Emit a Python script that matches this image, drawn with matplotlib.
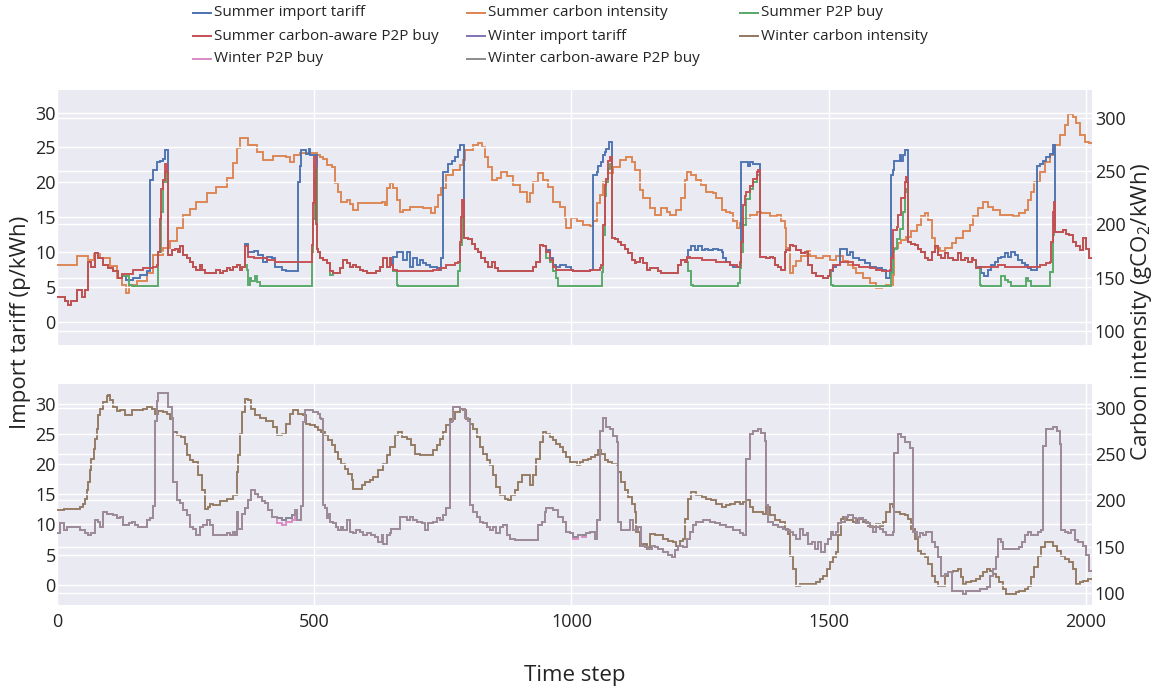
import matplotlib
matplotlib.use("Agg")
import matplotlib.pyplot as plt
from matplotlib.lines import Line2D

plt.rcParams['font.family'] = ['Open Sans', 'DejaVu Sans']
plt.rcParams['mathtext.fontset'] = 'custom'
plt.rcParams['mathtext.rm'] = 'Open Sans'
plt.rcParams['mathtext.default'] = 'regular'

# ---------------- data (time step, value), step-wise ----------------
summer_import_tariff = [
    (0,3.5),(15,2.9),(22,2.4),(28,2.9),(38,4.6),(48,3.6),(54,4.6),(61,8.6),(67,7.9),(74,9.9),(80,9.1),(90,8.1),(100,7.7),(109,7.2),(119,6.2),
    (126,6.5),(135,6.0),(148,6.2),(161,6.7),(174,7.2),(181,20.3),(187,21.7),(194,22.9),(200,23.1),(207,23.4),(210,24.6),(216,9.6),(223,10.3),
    (229,10.5),(236,10.0),(239,10.8),(245,9.6),(252,9.1),(258,8.6),(265,7.9),(271,7.4),(278,8.1),(281,7.4),(288,7.0),(310,7.4),(317,7.0),
    (323,7.2),(330,7.7),(336,7.4),(343,7.9),(349,8.1),(356,7.4),(359,7.9),(365,11.2),(372,10.0),(382,10.2),(391,9.6),(401,8.6),(408,9.3),
    (417,9.1),(424,7.9),(437,7.4),(446,7.2),(469,20.0),(472,22.4),(475,24.6),(485,24.1),(489,24.8),(492,23.9),(505,10.5),(508,10.0),(511,9.1),
    (518,8.9),(524,8.4),(531,7.2),(537,7.0),(550,7.7),(556,8.9),(563,8.4),(569,7.9),(576,8.1),(582,7.9),(589,7.4),(595,7.2),(602,7.0),(621,7.2),
    (628,7.9),(634,9.1),(641,7.9),(647,9.1),(650,8.1),(654,9.3),(660,10.0),(673,8.9),(680,10.0),(686,7.9),(693,9.1),(699,8.1),(705,8.9),(712,8.4),
    (718,8.1),(725,7.9),(738,7.7),(744,7.4),(747,9.1),(751,21.5),(760,22.7),(767,23.1),(773,23.6),(780,24.6),(783,25.3),(791,12.0),(799,11.8),
    (806,11.2),(812,10.5),(819,10.0),(825,9.1),(832,8.6),(838,7.9),(845,8.6),(851,7.7),(858,7.2),(926,7.9),(932,8.6),(939,11.0),(945,10.8),
    (951,10.3),(958,9.1),(964,8.1),(971,7.9),(977,8.1),(990,7.9),(1000,7.4),(1003,7.2),(1036,7.4),(1042,21.0),(1049,21.5),(1052,22.4),(1058,22.9),
    (1062,23.9),(1065,24.3),(1068,24.8),(1073,25.8),(1078,12.0),(1084,11.8),(1091,11.5),(1097,11.0),(1104,10.5),(1110,9.8),(1117,8.9),(1123,8.4),
    (1126,8.6),(1133,9.1),(1139,8.4),(1146,7.4),(1152,7.7),(1169,7.2),(1175,7.0),(1208,8.1),(1214,8.9),(1220,8.6),(1224,9.1),(1227,10.3),(1233,10.8),
    (1240,10.3),(1246,10.8),(1253,10.3),(1259,10.5),(1266,10.3),(1275,10.5),(1285,10.3),(1292,10.0),(1295,9.1),(1301,8.6),(1308,8.1),(1314,7.9),
    (1330,22.9),(1343,22.4),(1347,22.9),(1353,22.7),(1366,9.3),(1379,9.1),(1386,9.3),(1392,9.1),(1395,8.1),(1402,7.9),(1408,7.4),(1415,10.0),
    (1418,10.3),(1424,11.0),(1431,10.8),(1437,10.3),(1447,9.8),(1454,10.0),(1460,8.1),(1467,7.0),(1476,6.5),(1489,6.2),(1499,6.5),(1502,7.2),
    (1509,7.9),(1515,8.1),(1522,10.5),(1535,9.6),(1541,10.0),(1548,9.1),(1560,8.9),(1570,8.4),(1580,7.9),(1593,7.7),(1603,7.4),(1612,6.2),(1619,7.0),
    (1622,21.0),(1625,21.7),(1628,23.1),(1638,23.9),(1641,23.1),(1645,23.9),(1648,24.6),(1654,11.5),(1661,11.2),(1667,11.0),(1674,10.5),(1680,10.0),
    (1687,9.1),(1693,8.9),(1700,10.0),(1706,10.8),(1713,9.6),(1719,9.1),(1726,9.8),(1732,9.1),(1742,8.9),(1752,9.8),(1758,8.9),(1765,9.1),(1771,8.6),
    (1778,9.1),(1781,8.9),(1787,7.7),(1790,7.9),(1797,7.0),(1803,6.5),(1810,7.4),(1816,8.1),(1823,8.6),(1829,9.1),(1836,9.3),(1842,9.8),(1849,9.3),
    (1855,10.0),(1862,9.6),(1868,8.9),(1875,8.4),(1881,8.1),(1888,7.7),(1894,7.4),(1905,22.4),(1910,22.7),(1917,23.1),(1923,23.6),(1930,24.1),
    (1936,25.3),(1941,12.9),(1955,13.1),(1962,12.6),(1968,12.4),(1975,11.5),(1981,10.8),(1988,10.3),(1994,12.0),(2001,10.5),(2007,9.1)]

summer_carbon_intensity = [
    (0,162),(38,169.8),(61,166.7),(71,172.9),(84,168.2),(103,160.4),(116,149.5),(126,143.2),(134,135.4),(139,143.2),(155,146.3),(174,154.1),
    (187,171.4),(207,177.6),(220,183.9),(233,196.4),(245,208.9),(258,214.6),(271,221.4),(291,229.3),(310,235.5),(330,243.3),(343,257.4),
    (349,271.5),(356,281.5),(372,274.6),(388,268.4),(401,260.6),(420,264.6),(446,263.7),(453,259.0),(460,265),(472,266.8),(505,265),(511,263),
    (518,261),(524,255.9),(534,254.3),(540,238.7),(547,230.8),(553,221.4),(563,222.5),(569,219.4),(576,213.6),(586,219.9),(631,221.4),(638,218),
    (641,234),(647,238.7),(654,234),(660,223),(667,212),(673,213.6),(686,216.7),(712,215.2),(728,210.5),(734,216.7),(741,227.7),(747,234),
    (757,246.5),(770,251.2),(783,255.9),(790,260.6),(793,270),(809,274.6),(819,276.2),(826,273),(832,263.7),(838,254.3),(845,241.8),(855,243.3),
    (864,249),(874,245),(887,237),(900,230.8),(913,221.4),(919,229.3),(926,240.2),(935,248),(945,241.8),(955,235.5),(965,221.4),(977,216.7),
    (987,205.8),(990,196.4),(1000,205.8),(1010,202.7),(1023,199.5),(1036,198),(1042,202.7),(1049,219.9),(1055,227.7),(1062,240.2),(1071,248),
    (1081,254.3),(1094,260.6),(1107,263.7),(1117,259),(1123,251.2),(1133,232.4),(1139,224.6),(1152,215.2),(1162,208.9),(1175,215.2),(1185,212),
    (1191,208.9),(1204,213.6),(1214,224.6),(1220,241.8),(1224,249),(1233,246.5),(1243,241.8),(1252,237),(1262,230.8),(1275,229.3),(1282,224.6),
    (1292,213.6),(1301,212),(1308,210.5),(1314,202.7),(1321,196.4),(1327,201),(1334,205.8),(1347,208.9),(1360,212),(1369,210.5),(1386,207.4),
    (1399,208.9),(1408,202.7),(1415,196.4),(1418,177.6),(1424,154.1),(1431,160.4),(1437,165.1),(1447,170),(1457,174.5),(1463,169.8),(1476,168.2),
    (1489,169.8),(1502,166.7),(1515,169.8),(1528,165.1),(1538,162),(1548,158.8),(1554,154.1),(1567,149.5),(1580,144.8),(1593,140),(1603,141.5),
    (1612,143.2),(1625,152.6),(1628,177.6),(1635,182.3),(1641,185.4),(1651,188.5),(1661,193.3),(1671,199.5),(1680,207.4),(1687,210.5),(1693,204),
    (1700,187),(1706,177.6),(1716,174.5),(1726,177.6),(1739,182.3),(1748,187),(1761,193.3),(1774,199.5),(1781,207.4),(1790,215.2),(1800,221.4),
    (1810,216.7),(1820,213.6),(1833,208.9),(1846,208.9),(1858,207.4),(1871,210.5),(1881,213.6),(1888,223),(1894,230.8),(1900,240.2),(1910,249.6),
    (1920,259),(1930,265.3),(1939,274.6),(1949,284),(1959,293.4),(1965,303.4),(1975,301.3),(1981,295),(1988,284),(1998,277.8),(2007,276.2)]

summer_p2p_buy = [
    (0,3.5),(15,2.9),(22,2.4),(28,2.9),(38,4.6),(48,3.6),(54,4.6),(61,8.6),(67,7.9),(74,9.9),(80,9.1),(90,8.1),(100,7.7),(109,7.2),(119,6.2),
    (126,6.5),(139,5.3),(145,5.1),(197,10.0),(203,15.8),(207,20.0),(210,21.5),(213,20.0),(216,9.6),(223,10.3),(229,10.5),(236,10.0),(239,10.8),
    (245,9.6),(252,9.1),(258,8.6),(265,7.9),(271,7.4),(278,8.1),(281,7.4),(288,7.0),(310,7.4),(317,7.0),(323,7.2),(330,7.7),(336,7.4),(343,7.9),
    (349,8.1),(356,7.4),(359,7.9),(365,8.1),(369,7.4),(372,5.3),(375,6.2),(378,5.9),(385,6.5),(388,5.7),(395,5.1),(495,10.0),(498,14.8),(501,20.5),
    (503,22.0),(505,10.5),(508,10.0),(511,9.1),(518,8.9),(524,8.4),(531,6.7),(537,7.0),(550,7.7),(556,8.9),(563,8.4),(569,7.9),(576,8.1),(582,7.9),
    (589,7.4),(595,7.2),(602,7.0),(621,7.2),(628,7.9),(634,9.1),(641,7.9),(647,9.1),(650,8.1),(654,7.2),(660,5.3),(663,5.1),(780,7.2),(783,11.0),
    (788,15.0),(791,12.0),(799,11.8),(806,11.2),(812,10.5),(819,10.0),(825,9.1),(832,8.6),(838,7.9),(845,8.6),(851,7.7),(858,7.2),(926,7.9),
    (932,8.6),(939,11.0),(945,10.8),(951,9.1),(958,8.6),(964,7.2),(971,6.2),(974,5.1),(1060,7.1),(1062,12.4),(1065,18.1),(1068,20.0),(1071,21.9),
    (1075,22.7),(1078,12.0),(1084,11.8),(1091,11.5),(1097,11.0),(1104,10.5),(1110,9.8),(1117,8.9),(1123,8.4),(1126,8.6),(1133,9.1),(1139,8.4),
    (1146,7.4),(1152,7.7),(1169,7.2),(1175,7.0),(1208,8.1),(1214,8.9),(1220,8.6),(1227,7.2),(1233,5.3),(1237,5.1),(1324,5.5),(1327,7.7),(1330,10.0),
    (1334,13.9),(1340,17.6),(1347,19.0),(1353,20.0),(1360,21.0),(1366,9.3),(1379,9.1),(1386,9.3),(1392,9.1),(1395,8.1),(1402,7.9),(1408,7.4),
    (1415,10.0),(1418,10.3),(1424,11.0),(1431,10.8),(1437,10.3),(1447,9.8),(1454,10.0),(1460,8.1),(1467,7.0),(1476,6.5),(1489,6.2),(1499,6.5),
    (1502,7.2),(1505,5.3),(1509,5.1),(1622,7.0),(1625,10.0),(1628,10.5),(1632,11.9),(1638,13.3),(1645,15.7),(1648,18.6),(1651,19.1),(1654,11.5),
    (1661,11.2),(1667,11.0),(1674,10.5),(1680,10.0),(1687,9.1),(1693,8.9),(1700,10.0),(1706,10.8),(1713,9.6),(1719,9.1),(1726,9.8),(1732,9.1),
    (1742,8.9),(1752,9.8),(1758,8.9),(1765,9.1),(1771,8.6),(1778,9.1),(1781,8.9),(1787,7.7),(1794,5.3),(1797,5.1),(1836,6.5),(1842,6.0),(1849,5.7),
    (1855,5.1),(1884,6.2),(1888,5.9),(1894,5.1),(1930,7.1),(1936,12.4),(1939,14.8),(1941,12.9),(1955,13.1),(1962,12.6),(1968,12.4),(1975,11.5),
    (1981,10.8),(1988,10.3),(1994,12.0),(2001,10.5),(2007,9.1)]

summer_carbon_aware_p2p_buy = [
    (0,3.5),(15,2.9),(22,2.4),(28,2.9),(38,4.6),(48,3.6),(54,4.6),(61,8.6),(67,7.9),(74,9.9),(80,9.1),(90,8.1),(100,7.7),(109,7.2),(119,6.2),
    (126,6.9),(148,7.4),(168,7.7),(187,7.9),(194,8.1),(197,10.0),(200,14.8),(203,19.1),(207,20.3),(210,22.7),(213,21.5),(216,9.6),(223,10.3),
    (229,10.5),(236,10.0),(239,10.8),(245,9.6),(252,9.1),(258,8.6),(265,7.9),(271,7.4),(278,8.1),(281,7.4),(288,7.0),(310,7.4),(317,7.0),(323,7.2),
    (330,7.7),(336,7.4),(343,7.9),(349,8.1),(356,7.4),(359,7.9),(365,10.8),(372,9.3),(382,9.1),(408,8.9),(424,8.6),(495,11.0),(498,17.0),(500,23.6),
    (503,14.0),(505,10.5),(508,10.0),(511,9.1),(518,8.9),(524,8.4),(531,7.2),(537,7.0),(550,7.7),(556,8.9),(563,8.4),(569,7.9),(576,8.1),(582,7.9),
    (589,7.4),(595,7.2),(602,7.0),(621,7.2),(628,7.9),(634,9.1),(641,7.9),(647,9.1),(650,8.1),(654,7.4),(660,7.2),(731,7.4),(744,7.7),(757,8.1),
    (773,8.4),(780,8.6),(783,11.5),(786,15.0),(788,17.4),(791,12.0),(799,11.8),(806,11.2),(812,10.5),(819,10.0),(825,9.1),(832,8.6),(838,7.9),
    (845,8.6),(851,7.7),(858,7.2),(926,7.9),(932,8.6),(939,11.0),(945,10.8),(951,10.0),(958,8.9),(964,7.9),(971,7.4),(1003,7.2),(1036,7.4),
    (1055,7.7),(1058,8.1),(1062,13.9),(1065,19.6),(1068,20.5),(1071,23.1),(1075,23.6),(1078,12.0),(1084,11.8),(1091,11.5),(1097,11.0),(1104,10.5),
    (1110,9.8),(1117,8.9),(1123,8.4),(1126,8.6),(1133,9.1),(1139,8.4),(1146,7.4),(1152,7.7),(1169,7.2),(1175,7.0),(1208,8.1),(1214,8.9),(1220,8.6),
    (1224,9.3),(1230,9.1),(1253,8.9),(1282,8.6),(1308,8.1),(1321,7.9),(1327,8.6),(1330,11.5),(1334,16.7),(1337,18.0),(1340,18.6),(1347,19.5),
    (1353,20.5),(1360,21.5),(1363,21.7),(1366,9.3),(1379,9.1),(1386,9.3),(1392,9.1),(1395,8.1),(1402,7.9),(1408,7.4),(1415,10.0),(1418,10.3),
    (1424,11.0),(1431,10.8),(1437,10.3),(1447,9.8),(1454,10.0),(1460,8.1),(1467,7.0),(1476,6.5),(1489,6.2),(1499,6.5),(1502,7.4),(1509,8.1),
    (1522,8.6),(1548,8.1),(1560,7.9),(1580,7.7),(1593,7.4),(1603,7.2),(1619,7.4),(1622,9.1),(1625,13.1),(1632,13.6),(1635,15.3),(1641,17.7),
    (1648,20.0),(1651,20.8),(1653,20.0),(1654,11.5),(1661,11.2),(1667,11.0),(1674,10.5),(1680,10.0),(1687,9.1),(1693,8.9),(1700,10.0),(1706,10.8),
    (1713,9.6),(1719,9.1),(1726,9.8),(1732,9.1),(1742,8.9),(1752,9.8),(1758,8.9),(1765,9.1),(1771,8.6),(1778,9.1),(1781,8.9),(1787,7.7),(1794,7.8),
    (1816,7.9),(1829,8.1),(1842,7.9),(1875,7.8),(1888,7.9),(1910,8.1),(1923,8.4),(1930,8.6),(1933,11.5),(1936,15.7),(1938,17.2),(1941,12.9),
    (1955,13.1),(1962,12.6),(1968,12.4),(1975,11.5),(1981,10.8),(1988,10.3),(1994,12.0),(2001,10.5),(2007,9.1)]

winter_import_tariff = [
    (0,8.5),(6,10.2),(13,9.0),(19,9.6),(45,9.0),(54,8.5),(61,8.2),(67,8.5),(74,10.7),(80,10.4),(84,9.6),(90,12.1),(97,11.8),(109,11.6),(116,11.0),
    (122,11.3),(129,9.9),(139,10.2),(145,10.4),(152,9.9),(158,9.6),(174,10.7),(181,11.0),(187,13.0),(190,27.2),(194,30.5),(197,31.7),(216,29.4),
    (223,27.7),(226,17.1),(233,14.1),(239,13.5),(245,12.4),(252,11.6),(258,9.6),(265,9.3),(271,8.2),(278,9.6),(284,9.9),(291,10.7),(297,9.9),
    (304,8.2),(330,8.5),(336,8.2),(343,8.8),(346,8.2),(349,12.1),(352,9.3),(359,11.8),(365,12.7),(372,14.1),(378,15.7),(385,15.1),(391,14.5),
    (398,13.8),(404,13.5),(411,12.4),(417,11.3),(427,11.0),(437,10.7),(446,11.0),(456,11.6),(462,12.4),(466,10.7),(475,13.0),(478,26.9),(482,29.0),
    (498,28.6),(508,28.3),(511,27.7),(514,27.5),(518,13.2),(521,12.7),(524,11.0),(527,11.8),(531,10.4),(537,10.2),(543,9.6),(547,9.0),(553,9.6),
    (556,9.0),(563,10.7),(569,8.8),(576,8.5),(582,9.0),(589,8.8),(595,8.2),(602,8.5),(611,8.2),(618,7.9),(624,7.1),(631,8.2),(634,6.8),(641,8.2),
    (647,8.5),(650,9.3),(667,11.3),(680,10.7),(686,11.3),(693,10.7),(699,10.4),(709,10.2),(715,9.0),(722,10.2),(731,10.4),(738,11.0),(744,10.7),
    (751,11.6),(757,12.7),(764,26.9),(767,27.2),(770,29.4),(783,29.1),(793,27.7),(799,27.2),(803,13.2),(809,12.1),(816,11.3),(822,10.4),(829,10.2),
    (835,9.6),(842,9.0),(848,9.6),(854,8.5),(861,9.6),(867,9.9),(874,8.2),(880,7.6),(890,7.4),(935,9.9),(942,10.4),(948,12.1),(951,12.7),(964,12.4),
    (974,11.3),(984,10.4),(990,8.8),(997,8.5),(1003,7.9),(1013,8.2),(1029,8.5),(1036,8.8),(1045,7.6),(1049,10.7),(1055,25.5),(1062,27.7),(1068,26.1),
    (1075,25.8),(1081,24.7),(1088,23.6),(1091,10.4),(1097,9.0),(1113,10.7),(1120,9.0),(1130,9.6),(1136,6.5),(1143,6.3),(1149,6.0),(1156,6.5),
    (1162,6.3),(1169,6.0),(1178,5.4),(1188,4.9),(1195,4.6),(1201,5.7),(1208,6.5),(1217,6.3),(1224,7.6),(1230,8.8),(1237,9.9),(1243,10.4),(1256,10.7),
    (1269,10.4),(1279,10.2),(1288,9.9),(1301,9.6),(1314,9.0),(1327,8.5),(1334,8.2),(1340,20.8),(1347,25.0),(1353,25.5),(1363,25.8),(1369,25.2),
    (1376,23.8),(1379,13.2),(1382,10.4),(1392,9.9),(1402,9.6),(1411,9.3),(1418,9.0),(1424,8.8),(1431,8.2),(1437,7.6),(1444,9.3),(1450,8.2),(1457,8.5),
    (1460,6.8),(1467,7.1),(1473,6.0),(1479,7.1),(1486,5.4),(1492,6.8),(1499,7.6),(1505,8.8),(1509,8.2),(1515,8.8),(1518,10.2),(1525,10.4),(1531,11.3),
    (1538,11.6),(1548,11.0),(1554,10.2),(1560,11.0),(1567,10.7),(1573,10.2),(1580,9.6),(1586,8.8),(1593,9.6),(1599,9.3),(1606,8.8),(1612,8.2),
    (1625,8.8),(1628,21.9),(1635,25.0),(1641,24.4),(1648,23.6),(1658,22.7),(1664,8.8),(1671,7.9),(1677,8.5),(1684,8.2),(1690,8.8),(1700,7.1),
    (1706,6.3),(1713,4.6),(1719,1.5),(1726,1.8),(1732,2.1),(1739,-1.0),(1761,-1.6),(1768,-1.0),(1794,-0.7),(1807,-0.4),(1813,1.5),(1820,2.6),
    (1826,4.6),(1829,7.6),(1836,7.1),(1839,6.0),(1871,6.3),(1875,7.1),(1881,8.2),(1888,8.8),(1894,8.2),(1907,8.8),(1913,9.0),(1917,23.0),(1923,25.8),
    (1936,26.1),(1943,25.5),(1949,23.3),(1952,9.0),(1959,8.8),(1965,8.5),(1972,9.0),(1978,7.4),(1985,7.1),(1994,6.5),(2001,4.9),(2007,2.3)]

winter_carbon_intensity = [
    (0,189.1),(13,190.9),(45,192.8),(51,196.4),(54,201.8),(58,210.9),(61,219.9),(64,232.6),(67,245.3),(71,256.2),(74,267.0),(77,277.9),(80,292.4),
    (84,299.6),(90,306.9),(97,313.4),(100,314.1),(103,308.7),(109,301.4),(116,296.7),(122,297.8),(132,292.4),(145,297.8),(168,299.6),(174,301.4),
    (184,299.6),(190,294.2),(197,296.7),(207,296.0),(213,294.2),(220,288.8),(226,274.3),(233,271.5),(242,268.8),(249,261.6),(252,248.9),(258,243.5),
    (265,241.7),(275,227.2),(281,210.9),(288,190.9),(294,192.8),(297,196.4),(304,194.6),(317,199.6),(330,201.4),(343,205.4),(349,230.8),(352,248.9),
    (356,272.5),(359,296.0),(365,310.5),(372,308.7),(378,299.6),(385,292.4),(394,289.5),(407,285.8),(420,279.7),(427,270.7),(437,272.5),(446,283.3),
    (453,294.2),(459,297.8),(469,294.2),(479,292.4),(485,283.3),(492,281.5),(501,279.7),(508,276.1),(514,274.3),(521,270.7),(527,265.2),(534,259.8),
    (540,252.5),(547,245.3),(553,239.9),(559,234.4),(566,229.0),(573,221.7),(576,212.7),(592,216.3),(598,219.9),(608,221.7),(615,225.4),(624,232.6),
    (634,239.9),(641,248.9),(647,258.0),(657,270.7),(663,274.3),(670,268.8),(680,267.0),(689,259.8),(696,250.7),(705,248.9),(731,254.3),(738,259.8),
    (744,267.0),(751,274.3),(757,281.5),(764,288.8),(773,296.0),(783,299.6),(790,297.8),(796,288.8),(803,283.3),(809,277.9),(816,268.8),(822,258.0),
    (829,250.7),(835,243.5),(842,238.1),(848,227.2),(854,214.5),(861,205.4),(870,201.8),(877,200.0),(883,205.4),(890,210.9),(896,219.9),(903,227.2),
    (919,216.3),(926,227.2),(932,245.3),(939,263.4),(945,274.3),(951,272.5),(958,268.8),(964,265.2),(971,261.6),(977,258.0),(984,252.5),(990,247.1),
    (997,241.7),(1010,238.1),(1016,241.7),(1023,243.5),(1033,245.3),(1039,247.1),(1045,248.9),(1052,254.3),(1058,250.7),(1065,243.5),(1071,241.7),
    (1078,239.9),(1088,238.1),(1091,230.8),(1097,219.9),(1104,210.9),(1110,203.6),(1117,196.4),(1123,187.3),(1126,165.6),(1133,151.1),(1139,152.9),
    (1146,147.5),(1152,163.8),(1162,162.0),(1178,158.3),(1188,156.5),(1198,154.7),(1204,151.1),(1211,156.5),(1217,158.3),(1220,180.1),(1227,201.8),
    (1233,209.1),(1243,205.4),(1253,203.6),(1262,201.8),(1272,200.0),(1282,196.4),(1292,192.8),(1301,194.6),(1308,196.4),(1318,198.2),(1327,196.4),
    (1334,198.2),(1340,200.0),(1347,192.8),(1353,187.3),(1373,185.5),(1379,192.8),(1386,183.7),(1395,178.3),(1405,176.4),(1415,169.2),(1421,163.8),
    (1424,140.2),(1431,125.7),(1437,107.6),(1444,109.4),(1476,111.2),(1483,114.9),(1489,118.5),(1496,125.7),(1502,133.0),(1509,138.4),(1515,143.8),
    (1518,162.0),(1525,180.1),(1528,181.9),(1535,178.3),(1548,176.4),(1557,180.1),(1567,176.4),(1577,172.8),(1586,171.0),(1593,174.6),(1599,172.8),
    (1606,176.4),(1612,187.3),(1619,196.4),(1625,192.8),(1628,187.3),(1638,185.5),(1648,183.7),(1654,180.1),(1661,169.2),(1667,158.3),(1674,145.7),
    (1680,142.0),(1687,138.4),(1693,131.2),(1700,118.5),(1706,111.2),(1713,107.6),(1726,118.5),(1732,122.1),(1742,123.9),(1752,125.7),(1758,116.7),
    (1761,109.4),(1768,111.2),(1777,113.0),(1787,114.9),(1794,118.5),(1800,122.1),(1807,125.7),(1813,123.9),(1820,120.3),(1826,116.7),(1832,111.2),
    (1839,104.0),(1845,98.6),(1865,100.4),(1871,102.2),(1881,104.0),(1888,107.6),(1894,116.7),(1900,127.5),(1907,140.2),(1913,149.3),(1920,154.7),
    (1936,151.1),(1943,145.7),(1952,140.2),(1959,136.6),(1968,133.0),(1975,125.7),(1981,109.4),(1988,111.2),(1994,113.0),(2005,114.9)]

# winter P2P buy: follows the import tariff except for a few short stretches
winter_p2p_dips = [(427,10.2),(437,9.9),(446,10.4),(456,10.7),(1003,7.6),(1020,7.9)]
winter_p2p_buy = sorted(dict(winter_import_tariff + winter_p2p_dips).items())
# winter carbon-aware P2P buy coincides with the import tariff in the picture
winter_carbon_aware_p2p_buy = list(winter_import_tariff)

legend_labels = ["Summer import tariff", "Summer carbon intensity", "Summer P2P buy",
                 "Summer carbon-aware P2P buy", "Winter import tariff", "Winter carbon intensity",
                 "Winter P2P buy", "Winter carbon-aware P2P buy"]
colors = ["#4C72B0", "#DD8452", "#55A868", "#C44E52", "#8172B3", "#937860", "#DA8BC3", "#8C8C8C"]

X_MAX = 2012
xticks = [0, 500, 1000, 1500, 2000]
left_ticks = [0, 5, 10, 15, 20, 25, 30]
right_ticks = [100, 150, 200, 250, 300]
LEFT_LIM = (-3.35, 33.25)
RIGHT_LIM = (86.6, 326.3)

# ---------------- figure ----------------
W, H = 1167, 691
fig = plt.figure(figsize=(W / 100, H / 100), dpi=100)
TXT = "#242424"


def rect(l, t, r, b):
    return [l / W, 1 - b / H, (r - l) / W, (b - t) / H]


def step(ax, series, color, lw=1.35, alpha=1.0):
    t = [p[0] for p in series] + [X_MAX]
    v = [p[1] for p in series] + [series[-1][1]]
    ax.plot(t, v, drawstyle="steps-post", color=color, lw=lw, alpha=alpha, solid_joinstyle="miter")


def setup(box, show_x):
    ax = fig.add_axes(rect(*box))
    tw = ax.twinx()
    ax.set_zorder(tw.get_zorder() + 1)
    ax.patch.set_visible(False)
    tw.patch.set_visible(True)
    tw.patch.set_facecolor("#EAEAF2")
    for a in (ax, tw):
        for s in a.spines.values():
            s.set_visible(False)
    ax.set_xlim(0, X_MAX)
    ax.set_ylim(*LEFT_LIM)
    tw.set_ylim(*RIGHT_LIM)
    ax.set_xticks(xticks)
    ax.set_yticks(left_ticks)
    tw.set_yticks(right_ticks)
    tw.xaxis.set_visible(True)
    tw.set_xticks(xticks)
    tw.grid(True, color="white", lw=1.0)
    ax.grid(True, axis="y", color="white", lw=1.0)
    ax.set_axisbelow(True)
    tw.set_axisbelow(True)
    tw.tick_params(axis="x", bottom=False, labelbottom=False, top=False, labeltop=False)
    ax.tick_params(axis="y", length=0, labelsize=13, colors=TXT, pad=1)
    tw.tick_params(axis="y", length=0, labelsize=13, colors=TXT, pad=2)
    ax.tick_params(axis="x", length=0, labelsize=13, colors=TXT, pad=6, labelbottom=show_x)
    return ax, tw


ax1, tw1 = setup((57, 90, 1092, 345), False)
ax2, tw2 = setup((57, 384, 1092, 605), True)

step(ax1, summer_import_tariff, colors[0])
step(tw1, summer_carbon_intensity, colors[1])
step(ax1, summer_p2p_buy, colors[2])
step(ax1, summer_carbon_aware_p2p_buy, colors[3])

step(ax2, winter_import_tariff, colors[4])
step(tw2, winter_carbon_intensity, colors[5])
step(ax2, winter_p2p_buy, colors[6])
step(ax2, winter_carbon_aware_p2p_buy, colors[7], alpha=0.8)

fig.text(21 / W, 1 - 322 / H, "Import tariff (p/kWh)", rotation=90, ha="center", va="center",
         fontsize=16, color=TXT)
fig.text(1141 / W, 1 - 312 / H, r"Carbon intensity (gCO$_2$/kWh)", rotation=90, ha="center",
         va="center", fontsize=16, color=TXT)
fig.text(575 / W, 1 - 676 / H, "Time step", ha="center", va="center", fontsize=16, color=TXT)

# legend laid out like the reference (3 columns, row-major)
col_x = [193, 467, 740]
row_y = [13, 36, 59]
for i, (lab, c) in enumerate(zip(legend_labels, colors)):
    r, k = divmod(i, 3)
    x0, y0 = col_x[k], row_y[r]
    fig.add_artist(Line2D([x0 / W, (x0 + 18) / W], [1 - y0 / H, 1 - y0 / H], color=c, lw=1.4,
                          transform=fig.transFigure))
    fig.text((x0 + 21) / W, 1 - y0 / H, lab, ha="left", va="center", fontsize=11, color=TXT)

fig.savefig("out.png", dpi=100)
